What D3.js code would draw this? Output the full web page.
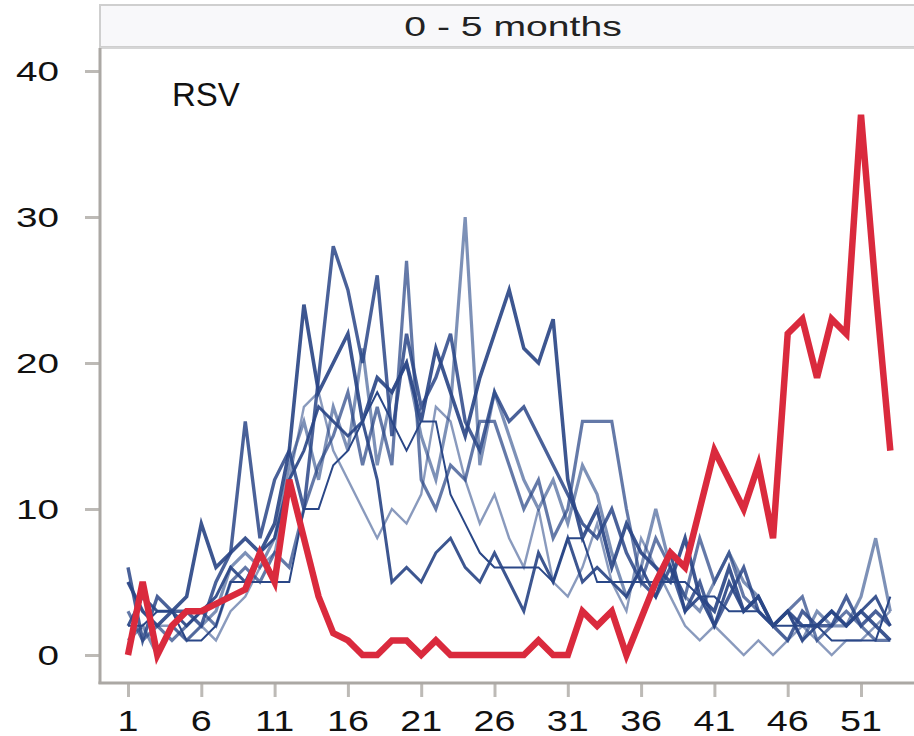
<!DOCTYPE html>
<html><head><meta charset="utf-8">
<script src="https://cdn.jsdelivr.net/npm/d3@7"></script>
<style>body{margin:0;background:#fff}</style>
</head><body><svg id="c" width="914" height="736"></svg>
<script>
const weeks = d3.range(1, 54);
const xTicks = [1, 6, 11, 16, 21, 26, 31, 36, 41, 46, 51];
const yTicks = [0, 10, 20, 30, 40];
const panelTitle = "0 - 5 months";
const virusLabel = "RSV";

const currentSeason = [0,5,0,2,3,3,3.5,4,4.5,7,5,12,8,4,1.5,1,0,0,1,1,0,1,0,0,0,0,0,0,1,0,0,3,2,3,0,2.5,5,7,6,10,14,12,10,13,8,22,23,19,23,22,37,25,14];
const pastSeason1 = [5,3,2,3,4,9,6,7,8,7,9,14,24,18,20,22,16,19,18,20,16,21,18,15,19,22,25,21,20,23,12,8,10,6,9,7,6,5,8,4,3,6,3,4,2,3,2,2,3,2,3,2,1];
const pastSeason2 = [1,2,0,2,1,2,3,6,7,6,8,13,16,12,17,14,21,13,18,20,15,12,17,30,13,18,15,12,10,12,9,13,11,7,4,6,10,6,4,3,5,7,5,4,2,3,1,3,2,2,4,8,3];
const pastSeason3 = [6,1,4,3,3,2,5,7,16,8,12,14,10,19,28,25,20,26,15,22,17,19,22,16,14,18,16,17,15,13,11,9,8,10,7,5,4,6,3,5,2,4,6,3,2,1,3,2,2,4,2,3,2];
const pastSeason4 = [2,4,3,3,2,3,4,6,5,7,8,12,14,17,16,15,16,12,5,6,5,7,8,6,5,7,5,3,7,5,8,5,6,5,4,6,4,7,3,4,2,5,3,4,2,3,1,2,3,2,3,4,2];
const pastSeason5 = [3,1,2,1,2,3,2,5,6,5,7,6,10,13,15,18,13,17,13,27,12,10,13,12,16,16,13,10,12,8,10,16,16,16,10,5,8,6,4,8,5,7,4,3,2,3,4,1,2,3,2,1,1];
const pastSeason6 = [5,3,2,2,1,2,1,3,4,6,7,12,17,18,14,12,10,8,10,9,11,17,16,12,9,11,8,6,10,5,4,6,9,5,3,8,6,4,2,1,2,1,0,1,0,1,2,1,0,1,1,2,3];
const pastSeason7 = [2,2,3,3,1,1,2,5,5,5,5,5,10,10,13,14,16,18,16,14,16,16,11,9,7,6,6,6,6,5,8,8,5,5,5,5,5,5,5,4,4,3,3,3,2,2,2,2,1,1,1,1,4];

const pastSeasons = [
  {values: pastSeason2, op: 0.6, w: 3.2},
  {values: pastSeason6, op: 0.55, w: 2.4},
  {values: pastSeason5, op: 0.72, w: 3.2},
  {values: pastSeason3, op: 0.85, w: 3.4},
  {values: pastSeason1, op: 0.92, w: 3.6},
  {values: pastSeason4, op: 0.92, w: 3.0},
  {values: pastSeason7, op: 1.0, w: 2.0}
];

const svg = d3.select("#c");
const defs = svg.append("defs");
defs.append("filter").attr("id", "soft").attr("x", "-5%").attr("y", "-5%").attr("width", "110%").attr("height", "110%")
  .append("feGaussianBlur").attr("stdDeviation", 0.6);

const plotL = 100, plotR = 914, plotT = 48, plotB = 683;
const x = d3.scaleLinear().domain([1, 51]).range([128, 861]);
const y = d3.scaleLinear().domain([0, 40]).range([655, 71]);
const axisCol = "#aba8a4";
const font = "'Liberation Sans', Arial, sans-serif";

// header strip
svg.append("rect").attr("x", plotL).attr("y", 5).attr("width", 830).attr("height", 42)
  .attr("fill", "#f8f8fa").attr("stroke", "#cfcfcf").attr("stroke-width", 2);
svg.append("g").attr("transform", `translate(${513},36) scale(1.45,1)`)
  .append("text").attr("text-anchor", "middle").attr("font-family", font)
  .attr("font-size", 27).attr("fill", "#222").text(panelTitle);

// plot frame top
svg.append("line").attr("x1", plotL).attr("x2", plotR + 10).attr("y1", plotT).attr("y2", plotT)
  .attr("stroke", "#d6d6d6").attr("stroke-width", 2);

// axes
const yAxis = svg.append("g").attr("transform", `translate(${plotL},0)`)
  .call(d3.axisLeft(y).tickValues(yTicks).tickSize(15).tickFormat(""));
const xAxis = svg.append("g").attr("transform", `translate(0,${plotB})`)
  .call(d3.axisBottom(x).tickValues(xTicks).tickSize(14).tickFormat(""));
[yAxis, xAxis].forEach(g => {
  g.select(".domain").remove();
  g.selectAll(".tick line").attr("stroke", "#bdbab6").attr("stroke-width", 3);
});
svg.append("line").attr("x1", plotL).attr("x2", plotL).attr("y1", plotT).attr("y2", plotB + 1)
  .attr("stroke", axisCol).attr("stroke-width", 3);
svg.append("line").attr("x1", plotL - 1.5).attr("x2", plotR + 10).attr("y1", plotB).attr("y2", plotB)
  .attr("stroke", axisCol).attr("stroke-width", 3);

yTicks.forEach(v => {
  svg.append("g").attr("transform", `translate(59,${y(v) + 10}) scale(1.38,1)`)
    .append("text").attr("text-anchor", "end").attr("font-family", font)
    .attr("font-size", 28).attr("fill", "#111").text(v);
});
xTicks.forEach(v => {
  svg.append("g").attr("transform", `translate(${x(v)},731) scale(1.3,1)`)
    .append("text").attr("text-anchor", "middle").attr("font-family", font)
    .attr("font-size", 29).attr("fill", "#111").text(v);
});

// lines
const line = d3.line().x((d, i) => x(weeks[i])).y(d => y(d));
const lg = svg.append("g").attr("filter", "url(#soft)");
pastSeasons.forEach(s => {
  lg.append("path").attr("d", line(s.values)).attr("fill", "none")
    .attr("stroke", "#2a4787").attr("stroke-opacity", s.op).attr("stroke-width", s.w)
    .attr("stroke-linejoin", "miter");
});
lg.append("path").attr("d", line(currentSeason)).attr("fill", "none")
  .attr("stroke", "#da2a3d").attr("stroke-width", 6.5).attr("stroke-linejoin", "miter");

svg.append("text").attr("x", 172).attr("y", 106).attr("font-family", font)
  .attr("font-size", 33).attr("fill", "#111").text(virusLabel);
</script></body></html>
